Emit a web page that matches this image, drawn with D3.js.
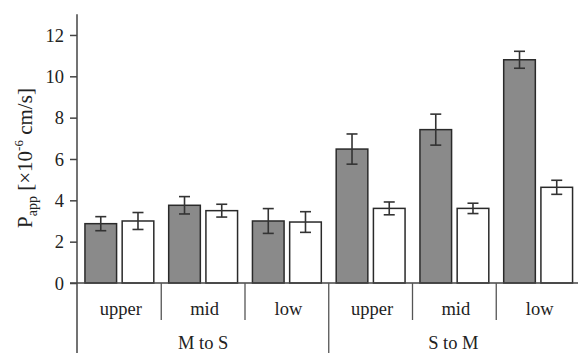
<!DOCTYPE html>
<html>
<head>
<meta charset="utf-8">
<script src="https://cdn.jsdelivr.net/npm/d3@7"></script>
<style>
  html, body { margin: 0; padding: 0; background: #fff; }
  svg { display: block; }
  text { font-family: "Liberation Serif", "Times New Roman", serif; fill: #222; }
</style>
</head>
<body>
<svg id="chart" width="578" height="353"></svg>
<script>
// ---- data ----
const directions = ["M to S", "S to M"];
const regions = ["upper", "mid", "low"];
const series = ["dark", "white"];
const darkValues  = [2.87, 3.76, 3.00, 6.48, 7.42, 10.80];
const darkErrors  = [0.34, 0.42, 0.60, 0.73, 0.75, 0.41];
const whiteValues = [3.00, 3.50, 2.95, 3.61, 3.61, 4.63];
const whiteErrors = [0.41, 0.31, 0.50, 0.31, 0.25, 0.34];
const yTicks = [0, 2, 4, 6, 8, 10, 12];

// ---- layout ----
const svg = d3.select("#chart");
const x0 = 77.5, xEnd = 580, yZero = 283, yTop = 14.3;

const groups = [];
directions.forEach(d => regions.forEach(r => groups.push(d + "|" + r)));

const y = d3.scaleLinear().domain([0, 13]).range([yZero, yTop]);
const xg = d3.scaleBand().domain(groups).range([x0, xEnd]).paddingInner(0).paddingOuter(0);
const xs = d3.scaleBand().domain(series).range([0, xg.bandwidth()]).paddingInner(0.15).paddingOuter(0.2);

const rows = [];
groups.forEach((g, i) => {
  rows.push({g, s: "dark", v: darkValues[i], e: darkErrors[i]});
  rows.push({g, s: "white", v: whiteValues[i], e: whiteErrors[i]});
});

// bars
svg.append("g").selectAll("rect").data(rows).join("rect")
  .attr("x", d => xg(d.g) + xs(d.s))
  .attr("y", d => y(d.v))
  .attr("width", xs.bandwidth())
  .attr("height", d => y(0) - y(d.v))
  .attr("fill", d => d.s === "dark" ? "#8a8a8a" : "#ffffff")
  .attr("stroke", "#2a2a2a")
  .attr("stroke-width", 1.5);

// error bars
const eb = svg.append("g").attr("stroke", "#333").attr("stroke-width", 1.6).attr("fill", "none");
const cap = 5.5;
rows.forEach(d => {
  const cx = xg(d.g) + xs(d.s) + xs.bandwidth() / 2;
  eb.append("line").attr("x1", cx).attr("x2", cx).attr("y1", y(d.v + d.e)).attr("y2", y(d.v - d.e));
  eb.append("line").attr("x1", cx - cap).attr("x2", cx + cap).attr("y1", y(d.v + d.e)).attr("y2", y(d.v + d.e));
  eb.append("line").attr("x1", cx - cap).attr("x2", cx + cap).attr("y1", y(d.v - d.e)).attr("y2", y(d.v - d.e));
});

// y axis
const yAxis = d3.axisLeft(y).tickValues(yTicks).tickSize(7).tickPadding(6).tickFormat(d3.format("d"));
const ya = svg.append("g").attr("transform", `translate(${x0 - 0.5},0)`).call(yAxis);
ya.select(".domain").remove();
ya.selectAll(".tick line").attr("stroke", "#444").attr("stroke-width", 1.5);
ya.selectAll(".tick text").attr("font-size", 18.5).attr("font-family", "Liberation Serif, serif").attr("fill", "#222").attr("dy", "0.34em");
// y axis line extending to bottom
svg.append("line").attr("x1", x0 - 0.5).attr("x2", x0 - 0.5).attr("y1", yTop).attr("y2", 353)
  .attr("stroke", "#444").attr("stroke-width", 1.5);
// baseline
svg.append("line").attr("x1", x0 - 7.5).attr("x2", xEnd).attr("y1", yZero).attr("y2", yZero)
  .attr("stroke", "#444").attr("stroke-width", 1.5);

// separators
groups.forEach((g, i) => {
  if (i === 0) return;
  const major = i % regions.length === 0;
  svg.append("line").attr("x1", xg(g)).attr("x2", xg(g))
    .attr("y1", yZero).attr("y2", major ? 353 : 320)
    .attr("stroke", "#555").attr("stroke-width", 1.3);
});

// region labels
svg.append("g").selectAll("text").data(groups).join("text")
  .attr("x", g => xg(g) + xg.bandwidth() / 2 + 1.5)
  .attr("y", 315)
  .attr("text-anchor", "middle")
  .attr("font-size", 18.5)
  .text(g => g.split("|")[1]);

// direction labels
svg.append("g").selectAll("text").data(directions).join("text")
  .attr("x", d => {
    const gs = groups.filter(g => g.startsWith(d + "|"));
    const a = d === directions[0] ? x0 : xg(gs[0]);
    const b = xg(gs[gs.length - 1]) + xg.bandwidth();
    return (a + Math.min(b, 578)) / 2;
  })
  .attr("y", 349)
  .attr("text-anchor", "middle")
  .attr("font-size", 18.5)
  .text(d => d);

// y label
const yl = svg.append("text")
  .attr("transform", "translate(32,158) rotate(-90)")
  .attr("text-anchor", "middle")
  .attr("font-size", 21);
yl.append("tspan").text("P");
yl.append("tspan").attr("font-size", 14).attr("dy", 5).text("app");
yl.append("tspan").attr("dy", -5).text(" [×10");
yl.append("tspan").attr("font-size", 13).attr("dy", -9).text("-6");
yl.append("tspan").attr("dy", 9).text(" cm/s]");
</script>
</body>
</html>
